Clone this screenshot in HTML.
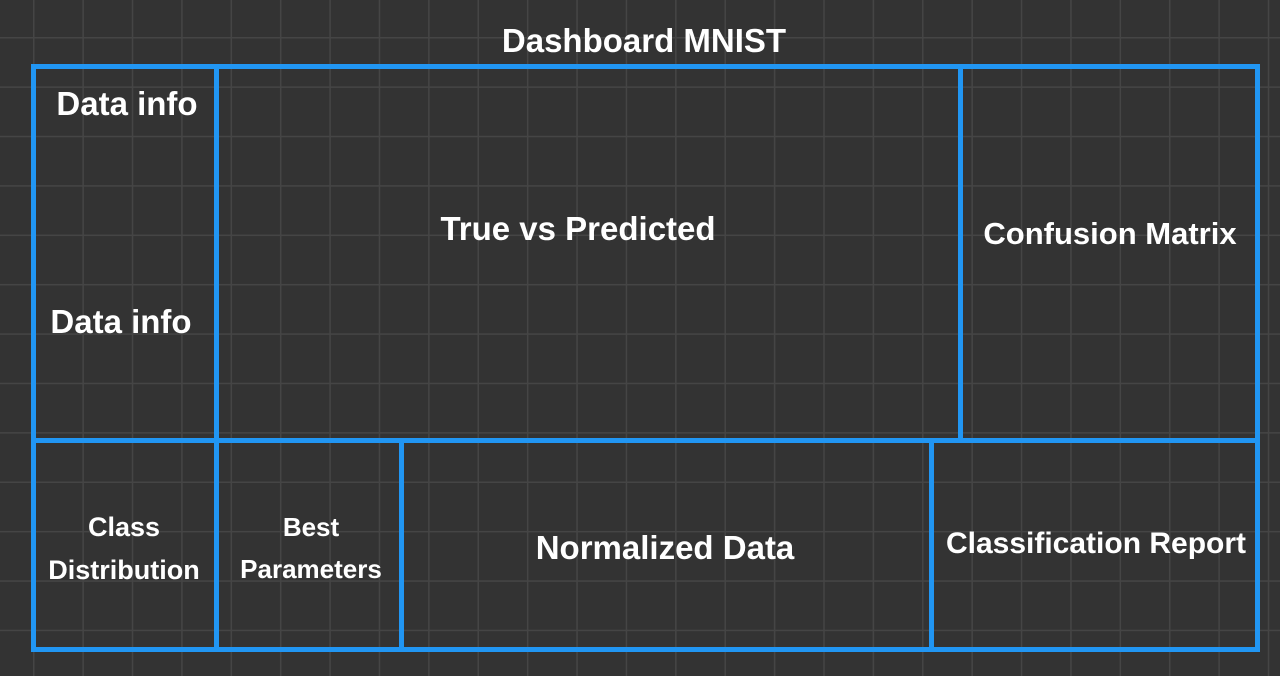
<!DOCTYPE html>
<html><head><meta charset="utf-8"><style>
html,body{margin:0;padding:0;}
body{width:1280px;height:676px;overflow:hidden;background-color:#333333;
background-image:linear-gradient(to right,#454545 1.5px,transparent 1.5px),linear-gradient(to bottom,#454545 1.5px,transparent 1.5px);
background-size:49.4px 49.4px;background-position:33px 37px;position:relative;
font-family:"Liberation Sans",sans-serif;color:#fff;font-weight:bold;}
.l{position:absolute;background:#2196f3;}
.t{position:absolute;text-align:center;white-space:nowrap;transform:translate(-50%,-50%);letter-spacing:0px;}
</style></head><body>
<div class="l" style="left:31px;top:64px;width:1229px;height:5px"></div>
<div class="l" style="left:31px;top:647px;width:1229px;height:5px"></div>
<div class="l" style="left:31px;top:64px;width:5px;height:588px"></div>
<div class="l" style="left:1255px;top:64px;width:5px;height:588px"></div>
<div class="l" style="left:214px;top:64px;width:5px;height:588px"></div>
<div class="l" style="left:958px;top:64px;width:5px;height:378px"></div>
<div class="l" style="left:31px;top:438px;width:1229px;height:5px"></div>
<div class="l" style="left:399px;top:438px;width:5px;height:214px"></div>
<div class="l" style="left:929px;top:438px;width:5px;height:214px"></div>
<div class="t" style="left:644px;top:41px;font-size:33px">Dashboard MNIST</div>
<div class="t" style="left:127px;top:104px;font-size:33px">Data info</div>
<div class="t" style="left:121px;top:322px;font-size:33px">Data info</div>
<div class="t" style="left:578px;top:229px;font-size:33px">True vs Predicted</div>
<div class="t" style="left:1110px;top:234px;font-size:31px">Confusion Matrix</div>
<div class="t" style="left:124px;top:549px;font-size:27px;line-height:43px">Class<br>Distribution</div>
<div class="t" style="left:311px;top:548px;font-size:26px;line-height:42px">Best<br>Parameters</div>
<div class="t" style="left:665px;top:548px;font-size:33px">Normalized Data</div>
<div class="t" style="left:1096px;top:544px;font-size:30px">Classification Report</div>
</body></html>
